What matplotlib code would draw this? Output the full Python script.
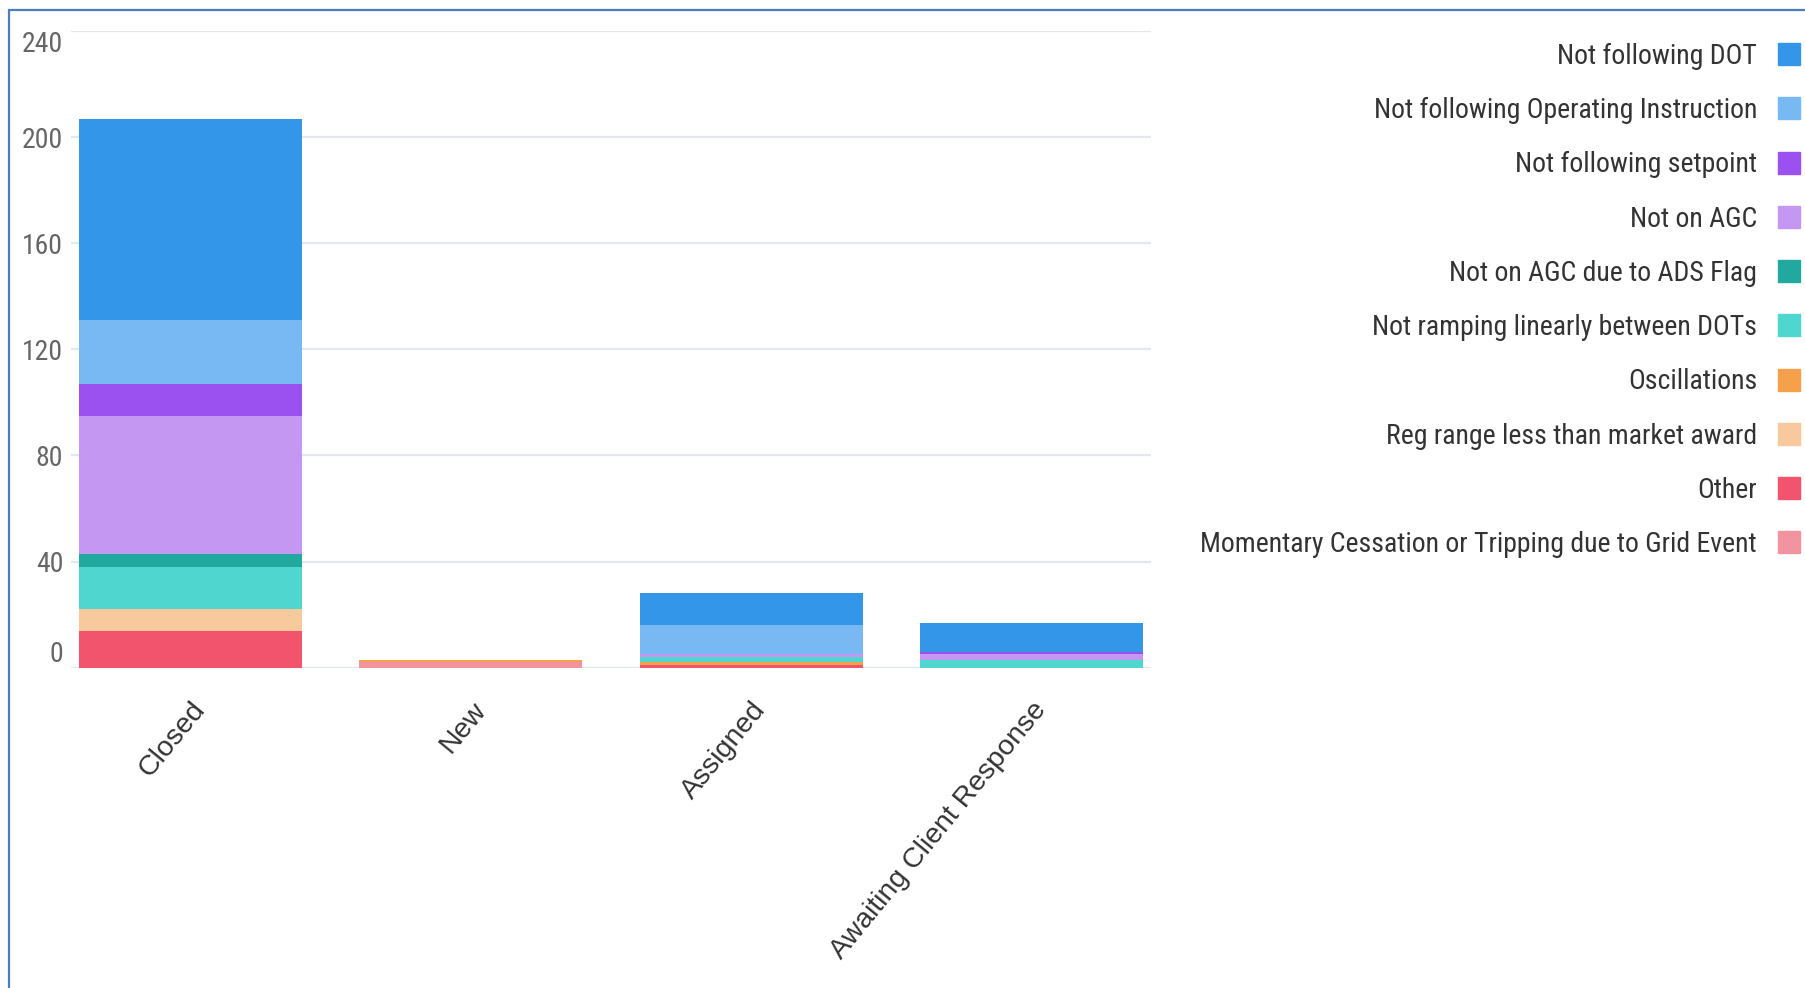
#!/usr/bin/env python3
"""Stacked bar chart of issue categories by ticket status."""

import matplotlib

matplotlib.use("Agg")
import matplotlib.pyplot as plt
from matplotlib import font_manager
from matplotlib.lines import Line2D
from matplotlib.patches import Rectangle
from matplotlib.transforms import ScaledTranslation


statuses = ["Closed", "New", "Assigned", "Awaiting Client Response"]

# legend order (top of stack first)
series_names = [
    "Not following DOT",
    "Not following Operating Instruction",
    "Not following setpoint",
    "Not on AGC",
    "Not on AGC due to ADS Flag",
    "Not ramping linearly between DOTs",
    "Oscillations",
    "Reg range less than market award",
    "Other",
    "Momentary Cessation or Tripping due to Grid Event",
]

not_following_dot = [76, 0, 12, 11]
not_following_op_instr = [24, 0, 11, 0]
not_following_setpoint = [12, 0, 0, 1]
not_on_agc = [52, 0, 1, 2]
not_on_agc_ads = [5, 0, 0, 0]
not_ramping = [16, 0, 2, 3]
oscillations = [0, 1, 1, 0]
reg_range = [8, 0, 0, 0]
other = [14, 0, 1, 0]
momentary = [0, 2, 0, 0]

colors = [
    "#3396e8", "#78b8f3", "#9b51f0", "#c497f2", "#22a99f",
    "#4fd6cf", "#f5a04a", "#f8c99c", "#f2546e", "#f2949f",
]

y_ticks = [0, 40, 80, 120, 160, 200, 240]

REGULAR = ["Liberation Sans", "DejaVu Sans"]


def pick_narrow():
    """Use a condensed face if one is installed, else shrink regular Liberation Sans."""
    for fam in ["Liberation Sans Narrow", "Roboto Condensed", "Arial Narrow"]:
        try:
            font_manager.findfont(font_manager.FontProperties(family=fam), fallback_to_default=False)
            return [fam, "DejaVu Sans"], 20
        except ValueError:
            continue
    return REGULAR, 18


def main() -> int:
    values = [
        not_following_dot, not_following_op_instr, not_following_setpoint,
        not_on_agc, not_on_agc_ads, not_ramping, oscillations, reg_range,
        other, momentary,
    ]
    narrow, nsize = pick_narrow()

    fig = plt.figure(figsize=(18.05, 9.88), dpi=100)
    ax = fig.add_axes([0.0393, 0.3242, 0.5983, 0.6444])

    x = list(range(len(statuses)))
    bottom = [0] * len(statuses)
    # stack from the bottom: reverse legend order
    for name, vals, c in reversed(list(zip(series_names, values, colors))):
        ax.bar(x, vals, width=0.795, bottom=bottom, color=c, edgecolor="none", zorder=2)
        bottom = [b + v for b, v in zip(bottom, vals)]

    ax.set_xlim(-0.426, 3.424)
    ax.set_ylim(0, 240)
    ax.set_yticks(y_ticks)
    ax.grid(axis="y", color="#e3e8ef", linewidth=1.6, zorder=0)
    for s in ax.spines.values():
        s.set_visible(False)

    ax.tick_params(axis="y", length=0, pad=5.5, labelsize=nsize, labelcolor="#666666")
    for lab in ax.get_yticklabels():
        lab.set_family(narrow)
    ylabs = ax.get_yticklabels()
    ylabs[0].set_transform(ylabs[0].get_transform() + ScaledTranslation(0, 16 / 100, fig.dpi_scale_trans))
    ylabs[-1].set_transform(ylabs[-1].get_transform() + ScaledTranslation(0, -10 / 100, fig.dpi_scale_trans))

    ax.set_xticks(x)
    ax.set_xticklabels(statuses, rotation=50.6, ha="right", rotation_mode="anchor",
                       fontsize=20.5, color="#333333", family=REGULAR)
    ax.tick_params(axis="x", length=0, pad=21)

    handles = [Line2D([], [], linestyle="none", marker="s", markersize=15.5,
                      markerfacecolor=c, markeredgecolor=c) for c in colors]
    leg = fig.legend(handles, series_names, loc="upper right", bbox_to_anchor=(1.005, 0.9707),
                     frameon=False, markerfirst=False, handlelength=0.8, handletextpad=0.75,
                     labelspacing=0.98, borderpad=0, prop={"family": narrow, "size": nsize})
    for t in leg.get_texts():
        t.set_color("#333333")

    # screenshot frame
    fig.patches.append(Rectangle((9 / 1805, -0.5), 2.0, 0.5 + 1 - 10 / 988, transform=fig.transFigure,
                                 fill=False, edgecolor="#4a7ebf", linewidth=1.6, zorder=10))

    fig.savefig("out.png", dpi=100)
    plt.close(fig)
    return 0


if __name__ == "__main__":
    raise SystemExit(main())
